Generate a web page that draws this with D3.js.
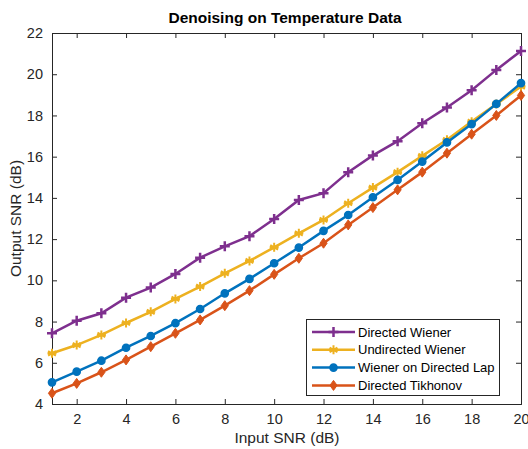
<!DOCTYPE html>
<html>
<head>
<meta charset="utf-8">
<script src="https://cdn.jsdelivr.net/npm/d3@7"></script>
<style>
  body { margin: 0; background: #fff; }
  svg { font-family: "Liberation Sans", Arial, Helvetica, sans-serif; }
</style>
</head>
<body>
<svg id="chart" width="528" height="449"></svg>
<script>
var inputSnr = d3.range(1, 21);
var directedWiener = [7.43, 8.04, 8.4, 9.16, 9.65, 10.31, 11.1, 11.65, 12.14, 12.98,
  13.9, 14.23, 15.25, 16.06, 16.75, 17.62, 18.39, 19.22, 20.21, 21.13];
var undirectedWiener = [6.46, 6.86, 7.35, 7.93, 8.47, 9.1, 9.7, 10.34, 10.94, 11.6,
  12.28, 12.93, 13.74, 14.5, 15.25, 16.04, 16.82, 17.7, 18.55, 19.4];
var wienerDirLap = [5.05, 5.57, 6.1, 6.73, 7.3, 7.92, 8.61, 9.37, 10.07, 10.83,
  11.59, 12.4, 13.17, 14.03, 14.87, 15.76, 16.69, 17.58, 18.56, 19.57];
var directedTikhonov = [4.52, 5.0, 5.54, 6.14, 6.78, 7.43, 8.08, 8.77, 9.5, 10.29,
  11.07, 11.8, 12.69, 13.53, 14.39, 15.25, 16.17, 17.09, 18.0, 18.97];
var xTicks = [2, 4, 6, 8, 10, 12, 14, 16, 18, 20];
var yTicks = [4, 6, 8, 10, 12, 14, 16, 18, 20, 22];

var series = [
  { name: "Directed Wiener", values: directedWiener, color: "#7E2F8E", marker: "plus" },
  { name: "Undirected Wiener", values: undirectedWiener, color: "#EDB120", marker: "star" },
  { name: "Wiener on Directed Lap", values: wienerDirLap, color: "#0072BD", marker: "circle" },
  { name: "Directed Tikhonov", values: directedTikhonov, color: "#D95319", marker: "diamond" }
];

var svg = d3.select("#chart");
var pLeft = 52, pRight = 521, pTop = 33, pBottom = 404;

var x = d3.scaleLinear().domain([1, 20]).range([pLeft, pRight]);
var y = d3.scaleLinear().domain([4, 22]).range([pBottom, pTop]);

// axes (ticks inside, MATLAB style)
var axisCol = "#262626";
var gx = svg.append("g").attr("transform", "translate(0," + pBottom + ")")
  .call(d3.axisBottom(x).tickValues(xTicks).tickSize(-5).tickPadding(10));
var gxTop = svg.append("g").attr("transform", "translate(0," + pTop + ")")
  .call(d3.axisTop(x).tickValues(xTicks).tickSize(-5).tickFormat(""));
var gy = svg.append("g").attr("transform", "translate(" + pLeft + ",0)")
  .call(d3.axisLeft(y).tickValues(yTicks).tickSize(-5).tickPadding(9));
var gyR = svg.append("g").attr("transform", "translate(" + pRight + ",0)")
  .call(d3.axisRight(y).tickValues(yTicks).tickSize(-5).tickFormat(""));
[gx, gxTop, gy, gyR].forEach(function(g) {
  g.selectAll("path").attr("stroke", axisCol).attr("stroke-width", 1);
  g.selectAll("line").attr("stroke", axisCol);
  g.selectAll("text").attr("fill", axisCol).style("font-size", "14.5px");
});

// markers
function drawMarker(g, type, color, cx, cy) {
  if (type === "plus") {
    g.append("path").attr("d", "M" + (cx - 5) + "," + cy + "H" + (cx + 5) + "M" + cx + "," + (cy - 5) + "V" + (cy + 5))
      .attr("stroke", color).attr("stroke-width", 2.5).attr("fill", "none");
  } else if (type === "star") {
    var r = 4.5, d = "";
    [0, 60, 120].forEach(function(a) {
      var t = a * Math.PI / 180;
      d += "M" + (cx - r * Math.sin(t)) + "," + (cy - r * Math.cos(t)) + "L" + (cx + r * Math.sin(t)) + "," + (cy + r * Math.cos(t));
    });
    d += "M" + (cx - r) + "," + cy + "H" + (cx + r);
    g.append("path").attr("d", d).attr("stroke", color).attr("stroke-width", 2).attr("fill", "none");
  } else if (type === "circle") {
    g.append("circle").attr("cx", cx).attr("cy", cy).attr("r", 3.6)
      .attr("fill", color).attr("stroke", color).attr("stroke-width", 1.5);
  } else if (type === "diamond") {
    g.append("path").attr("d", "M" + cx + "," + (cy - 5) + "L" + (cx + 3.6) + "," + cy + "L" + cx + "," + (cy + 5) + "L" + (cx - 3.6) + "," + cy + "Z")
      .attr("fill", color).attr("stroke", color).attr("stroke-width", 1);
  }
}

var line = d3.line().x(function(d, i) { return x(inputSnr[i]); }).y(function(d) { return y(d); });

series.forEach(function(s) {
  var g = svg.append("g");
  g.append("path").datum(s.values).attr("d", line)
    .attr("fill", "none").attr("stroke", s.color).attr("stroke-width", 2.5);
  s.values.forEach(function(v, i) {
    drawMarker(g, s.marker, s.color, x(inputSnr[i]), y(v));
  });
});

// title and labels
svg.append("text").attr("x", 285).attr("y", 23).attr("text-anchor", "middle")
  .style("font-size", "15.5px").style("font-weight", "bold").attr("fill", "#000")
  .text("Denoising on Temperature Data");
svg.append("text").attr("x", 287).attr("y", 443).attr("text-anchor", "middle")
  .style("font-size", "15.5px").attr("fill", axisCol).text("Input SNR (dB)");
svg.append("text").attr("transform", "translate(21," + ((pTop + pBottom) / 2) + ") rotate(-90)")
  .attr("text-anchor", "middle").style("font-size", "15.5px").attr("fill", axisCol).text("Output SNR (dB)");

// legend
var lg = svg.append("g");
lg.append("rect").attr("x", 306.5).attr("y", 319.5).attr("width", 193).attr("height", 76)
  .attr("fill", "#fff").attr("stroke", axisCol).attr("stroke-width", 1);
series.forEach(function(s, i) {
  var ly = 332 + i * 17.8;
  lg.append("line").attr("x1", 312).attr("x2", 355).attr("y1", ly).attr("y2", ly)
    .attr("stroke", s.color).attr("stroke-width", 2.5);
  drawMarker(lg, s.marker, s.color, 333.5, ly);
  lg.append("text").attr("x", 358).attr("y", ly + 4.5).style("font-size", "13px")
    .attr("fill", "#000").text(s.name);
});
</script>
</body>
</html>
